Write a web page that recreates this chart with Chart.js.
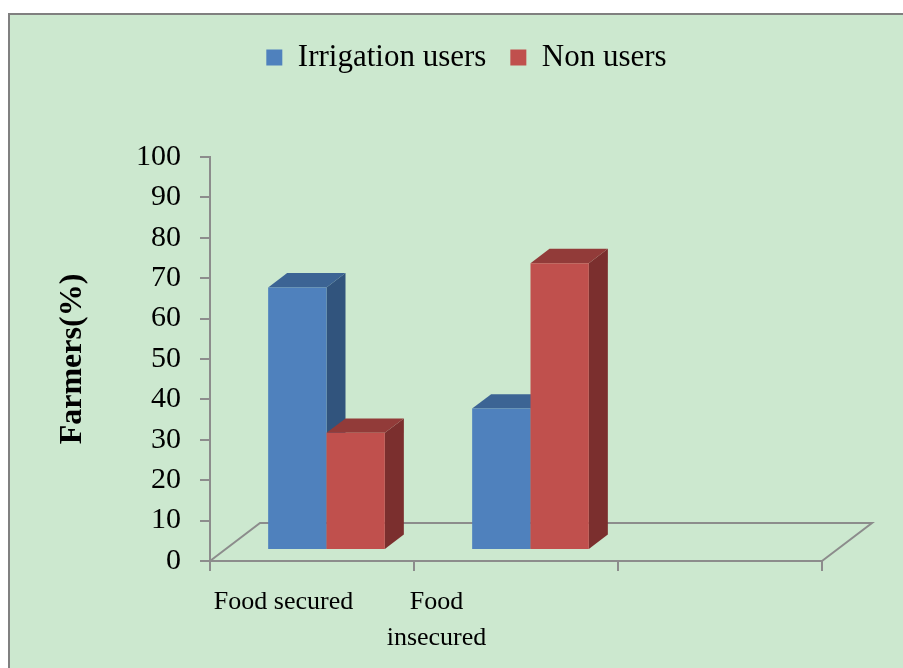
<!DOCTYPE html>
<html>
<head>
<meta charset="utf-8">
<script src="https://cdn.jsdelivr.net/npm/chart.js@4.4.1/dist/chart.umd.min.js"></script>
<style>
  html, body { margin: 0; padding: 0; background: #fff; }
  #marco { position: absolute; left: 8px; top: 13px; width: 893px; height: 653px;
           border-left: 2px solid #808080; border-top: 2px solid #808080; background: #cce8cf; }
  #caja { position: relative; width: 893px; height: 653px; }
</style>
</head>
<body>
<div id="marco"><div id="caja"><canvas id="grafico"></canvas></div></div>
<script>
// datos
var categorias = ['Food secured', 'Food insecured', ''];
var etiquetasEje = ['Food secured', ['Food', 'insecured'], '', ''];
var usuariosRiego = [65, 35, null];
var noUsuarios = [29, 71, null];
var yMin = 0, yMax = 100, yPaso = 10;

var FUENTE = "'Liberation Serif', 'Times New Roman', serif";
var GRIS = '#8c8c8c';

// profundidad del piso 3D y ubicacion de las barras dentro de el
var PISO_X = 50, PISO_Y = -38;
var DESPL = 0.29;
var PROF = 0.38;

var barras3d = {
    id: 'barras3d',
    beforeDatasetsDraw: function (chart) {
        var ctx = chart.ctx, area = chart.chartArea;
        ctx.save();
        // piso
        ctx.strokeStyle = GRIS;
        ctx.lineWidth = 2;
        ctx.beginPath();
        ctx.moveTo(area.left, area.bottom);
        ctx.lineTo(area.left + PISO_X, area.bottom + PISO_Y);
        ctx.lineTo(area.right + PISO_X, area.bottom + PISO_Y);
        ctx.lineTo(area.right, area.bottom);
        ctx.stroke();

        var sx = PISO_X * DESPL, sy = PISO_Y * DESPL;
        var px = PISO_X * PROF, py = PISO_Y * PROF;
        for (var i = 0; i < chart.data.labels.length; i++) {
            chart.data.datasets.forEach(function (ds, d) {
                if (ds.data[i] == null) return;
                var el = chart.getDatasetMeta(d).data[i];
                var izq = el.x - el.width / 2 + sx, der = el.x + el.width / 2 + sx;
                var arr = el.y + sy, aba = el.base + sy;
                // cara lateral
                ctx.fillStyle = ds.colorLado;
                ctx.beginPath();
                ctx.moveTo(der, arr);
                ctx.lineTo(der + px, arr + py);
                ctx.lineTo(der + px, aba + py);
                ctx.lineTo(der, aba);
                ctx.closePath();
                ctx.fill();
                // tapa
                ctx.fillStyle = ds.colorTapa;
                ctx.beginPath();
                ctx.moveTo(izq, arr);
                ctx.lineTo(izq + px, arr + py);
                ctx.lineTo(der + px, arr + py);
                ctx.lineTo(der, arr);
                ctx.closePath();
                ctx.fill();
                // frente (lo dibuja la libreria)
                ctx.save();
                ctx.translate(sx, sy);
                el.draw(ctx);
                ctx.restore();
            });
        }
        ctx.restore();
        return false;
    }
};

Chart.defaults.color = '#000';
Chart.defaults.font.family = FUENTE;

new Chart(document.getElementById('grafico').getContext('2d'), {
    type: 'bar',
    data: {
        labels: categorias,
        datasets: [{
                label: 'Irrigation users',
                data: usuariosRiego,
                backgroundColor: '#4f81bd',
                colorLado: '#31547d',
                colorTapa: '#3c6494'
            },
            {
                label: 'Non users',
                data: noUsuarios,
                backgroundColor: '#c0504d',
                colorLado: '#7b2f2e',
                colorTapa: '#923b39'
            }
        ]
    },
    plugins: [barras3d],
    options: {
        animation: false,
        responsive: true,
        maintainAspectRatio: false,
        layout: {padding: {left: 20, right: 0, top: 3, bottom: 0}},
        barPercentage: 1,
        categoryPercentage: 0.572,
        plugins: {
            legend: {
                position: 'top',
                labels: {
                    boxWidth: 16,
                    boxHeight: 16,
                    padding: 24,
                    font: {size: 31}
                }
            },
            tooltip: {enabled: false}
        },
        scales: {
            x: {
                position: 'bottom',
                offset: true,
                grid: {display: true, drawOnChartArea: false, offset: true, tickLength: 10, color: GRIS, lineWidth: 2},
                border: {display: true, color: GRIS, width: 2},
                ticks: {display: false},
                afterFit: function (s) { s.height = 10; }
            },
            x2: {
                type: 'category',
                labels: etiquetasEje,
                position: 'bottom',
                offset: true,
                grid: {display: false},
                border: {display: false},
                ticks: {font: {size: 26, lineHeight: 1.4}, padding: 5, labelOffset: -3, maxRotation: 0, autoSkip: false},
                afterFit: function (s) { s.height = 97; }
            },
            arriba: {
                type: 'category',
                position: 'top',
                grid: {display: false},
                border: {display: false},
                ticks: {display: false},
                afterFit: function (s) { s.height = 74; }
            },
            y: {
                min: yMin,
                max: yMax,
                ticks: {stepSize: yPaso, padding: 19, font: {size: 30}},
                grid: {display: true, drawOnChartArea: false, tickLength: 10, color: GRIS, lineWidth: 2},
                border: {display: true, color: GRIS, width: 2},
                title: {
                    display: true,
                    text: 'Farmers(%)',
                    font: {size: 32, weight: 'bold'},
                    padding: {top: 24, bottom: 0}
                },
                afterFit: function (s) { s.width = 180; }
            },
            derecha: {
                type: 'linear',
                position: 'right',
                grid: {display: false},
                border: {display: false},
                ticks: {display: false},
                afterFit: function (s) { s.width = 81; }
            }
        }
    }
});
</script>
</body>
</html>
